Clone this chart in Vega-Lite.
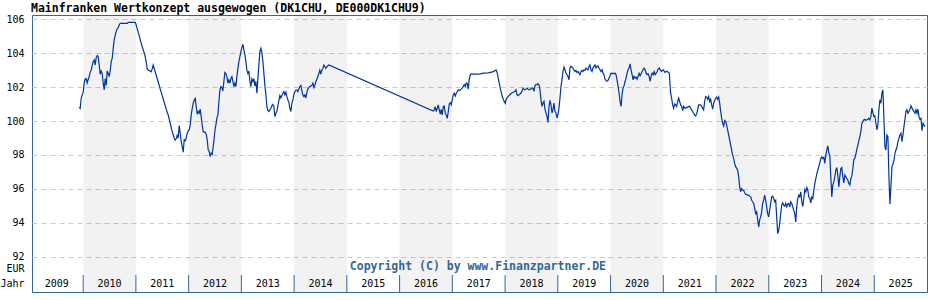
{
  "$schema": "https://vega.github.io/schema/vega-lite/v6.json",
  "width": 895,
  "height": 277,
  "autosize": {"type": "none"},
  "padding": {"left": 32, "top": 15, "right": 1, "bottom": 8},
  "background": "white",
  "title": {"text": "Mainfranken Wertkonzept ausgewogen (DK1CHU, DE000DK1CHU9)", "anchor": "start", "frame": "group", "font": "DejaVu Sans Mono", "fontSize": 11.5, "fontWeight": "bold", "color": "#000000", "baseline": "alphabetic", "offset": -9, "dx": -1},
  "config": {
    "view": {"stroke": "#336699", "strokeWidth": 1},
    "axis": {"labelFont": "DejaVu Sans Mono", "labelFontSize": 10, "labelColor": "#000000"}
  },
  "datasets": {
    "kurs": [
{"t":2009.925,"v":100.81},{"t":2009.944,"v":100.75},{"t":2009.963,"v":101.34},{"t":2009.982,"v":101.54},{"t":2010.001,"v":101.7},{"t":2010.02,"v":102.23},{"t":2010.038,"v":102.48},{"t":2010.057,"v":102.5},{"t":2010.076,"v":102.25},{"t":2010.095,"v":102.45},{"t":2010.114,"v":102.62},{"t":2010.133,"v":102.87},{"t":2010.152,"v":103.0},{"t":2010.171,"v":103.26},{"t":2010.19,"v":103.5},{"t":2010.209,"v":103.6},{"t":2010.228,"v":103.3},{"t":2010.247,"v":103.74},{"t":2010.266,"v":103.86},{"t":2010.285,"v":103.8},{"t":2010.304,"v":103.3},{"t":2010.323,"v":102.76},{"t":2010.342,"v":102.95},{"t":2010.361,"v":102.8},{"t":2010.38,"v":102.23},{"t":2010.399,"v":101.83},{"t":2010.418,"v":102.5},{"t":2010.437,"v":102.1},{"t":2010.456,"v":102.95},{"t":2010.475,"v":102.8},{"t":2010.494,"v":102.62},{"t":2010.513,"v":102.95},{"t":2010.532,"v":103.5},{"t":2010.551,"v":103.7},{"t":2010.57,"v":104.29},{"t":2010.588,"v":104.78},{"t":2010.607,"v":105.03},{"t":2010.626,"v":105.27},{"t":2010.645,"v":105.43},{"t":2010.664,"v":105.5},{"t":2010.683,"v":105.66},{"t":2010.702,"v":105.76},{"t":2010.835,"v":105.76},{"t":2010.854,"v":105.82},{"t":2010.987,"v":105.82},
{"t":2011.006,"v":105.66},{"t":2011.025,"v":105.43},{"t":2011.044,"v":105.23},{"t":2011.063,"v":105.03},{"t":2011.082,"v":104.8},{"t":2011.101,"v":104.58},{"t":2011.12,"v":104.38},{"t":2011.139,"v":104.2},{"t":2011.158,"v":104.0},{"t":2011.176,"v":103.8},{"t":2011.195,"v":103.5},{"t":2011.214,"v":103.07},{"t":2011.233,"v":103.0},{"t":2011.252,"v":102.97},{"t":2011.271,"v":102.95},{"t":2011.29,"v":102.9},{"t":2011.309,"v":103.07},{"t":2011.328,"v":103.3},{"t":2011.347,"v":103.1},{"t":2011.366,"v":102.9},{"t":2011.385,"v":102.7},{"t":2011.404,"v":102.5},{"t":2011.423,"v":102.3},{"t":2011.442,"v":102.1},{"t":2011.461,"v":101.89},{"t":2011.48,"v":101.7},{"t":2011.499,"v":101.5},{"t":2011.518,"v":101.3},{"t":2011.537,"v":101.1},{"t":2011.556,"v":100.9},{"t":2011.575,"v":100.7},{"t":2011.594,"v":100.5},{"t":2011.613,"v":100.36},{"t":2011.631,"v":100.12},{"t":2011.65,"v":99.87},{"t":2011.669,"v":99.62},{"t":2011.688,"v":99.38},{"t":2011.707,"v":99.19},{"t":2011.726,"v":99.0},{"t":2011.745,"v":98.87},{"t":2011.764,"v":98.95},{"t":2011.783,"v":99.15},{"t":2011.802,"v":99.0},{"t":2011.821,"v":99.73},{"t":2011.84,"v":99.28},{"t":2011.859,"v":98.8},{"t":2011.878,"v":98.49},{"t":2011.897,"v":98.16},{"t":2011.916,"v":98.9},{"t":2011.935,"v":98.83},{"t":2011.954,"v":99.0},{"t":2011.973,"v":99.28},{"t":2011.992,"v":99.42},
{"t":2012.011,"v":99.48},{"t":2012.03,"v":99.77},{"t":2012.049,"v":100.36},{"t":2012.068,"v":100.75},{"t":2012.087,"v":101.05},{"t":2012.106,"v":101.24},{"t":2012.125,"v":101.34},{"t":2012.144,"v":100.85},{"t":2012.163,"v":100.4},{"t":2012.181,"v":100.56},{"t":2012.2,"v":100.46},{"t":2012.219,"v":100.7},{"t":2012.238,"v":100.26},{"t":2012.257,"v":99.77},{"t":2012.276,"v":99.38},{"t":2012.295,"v":99.34},{"t":2012.314,"v":99.34},{"t":2012.333,"v":99.22},{"t":2012.352,"v":98.9},{"t":2012.371,"v":98.3},{"t":2012.39,"v":98.2},{"t":2012.409,"v":97.9},{"t":2012.428,"v":98.1},{"t":2012.447,"v":98.04},{"t":2012.466,"v":98.5},{"t":2012.485,"v":99.0},{"t":2012.504,"v":99.57},{"t":2012.517,"v":99.77},{"t":2012.536,"v":100.17},{"t":2012.555,"v":100.36},{"t":2012.574,"v":101.14},{"t":2012.593,"v":101.83},{"t":2012.612,"v":102.03},{"t":2012.631,"v":101.97},{"t":2012.649,"v":101.77},{"t":2012.668,"v":102.33},{"t":2012.687,"v":102.87},{"t":2012.706,"v":102.8},{"t":2012.725,"v":102.62},{"t":2012.744,"v":102.23},{"t":2012.763,"v":102.43},{"t":2012.782,"v":102.23},{"t":2012.801,"v":102.5},{"t":2012.82,"v":102.62},{"t":2012.839,"v":102.33},{"t":2012.858,"v":102.03},{"t":2012.877,"v":102.23},{"t":2012.896,"v":102.03},{"t":2012.915,"v":102.62},{"t":2012.934,"v":103.1},{"t":2012.953,"v":103.5},{"t":2012.972,"v":103.8},{"t":2012.991,"v":104.09},
{"t":2013.01,"v":104.33},{"t":2013.029,"v":104.52},{"t":2013.048,"v":104.2},{"t":2013.067,"v":103.9},{"t":2013.086,"v":103.5},{"t":2013.104,"v":103.0},{"t":2013.123,"v":102.8},{"t":2013.142,"v":102.95},{"t":2013.161,"v":102.33},{"t":2013.18,"v":102.03},{"t":2013.199,"v":102.48},{"t":2013.218,"v":102.33},{"t":2013.237,"v":102.5},{"t":2013.256,"v":102.07},{"t":2013.275,"v":102.33},{"t":2013.294,"v":101.64},{"t":2013.313,"v":102.5},{"t":2013.332,"v":103.3},{"t":2013.351,"v":104.09},{"t":2013.37,"v":104.29},{"t":2013.389,"v":104.05},{"t":2013.408,"v":103.5},{"t":2013.427,"v":102.8},{"t":2013.446,"v":102.1},{"t":2013.465,"v":101.54},{"t":2013.484,"v":100.85},{"t":2013.503,"v":100.61},{"t":2013.522,"v":100.56},{"t":2013.541,"v":100.66},{"t":2013.559,"v":100.75},{"t":2013.578,"v":100.9},{"t":2013.597,"v":100.98},{"t":2013.616,"v":100.85},{"t":2013.635,"v":100.26},{"t":2013.654,"v":100.46},{"t":2013.673,"v":100.56},{"t":2013.692,"v":100.9},{"t":2013.711,"v":101.2},{"t":2013.73,"v":101.5},{"t":2013.749,"v":101.36},{"t":2013.768,"v":101.5},{"t":2013.787,"v":101.64},{"t":2013.806,"v":101.73},{"t":2013.825,"v":101.54},{"t":2013.844,"v":101.7},{"t":2013.863,"v":101.44},{"t":2013.882,"v":101.24},{"t":2013.901,"v":101.1},{"t":2013.92,"v":100.75},{"t":2013.939,"v":100.56},{"t":2013.958,"v":101.05},{"t":2013.977,"v":101.24},{"t":2013.996,"v":101.58},
{"t":2014.014,"v":101.73},{"t":2014.033,"v":101.83},{"t":2014.052,"v":101.83},{"t":2014.071,"v":101.73},{"t":2014.09,"v":101.89},{"t":2014.109,"v":102.03},{"t":2014.128,"v":102.1},{"t":2014.147,"v":101.77},{"t":2014.166,"v":101.54},{"t":2014.185,"v":101.44},{"t":2014.204,"v":101.54},{"t":2014.223,"v":101.36},{"t":2014.242,"v":101.7},{"t":2014.261,"v":101.89},{"t":2014.28,"v":101.97},{"t":2014.299,"v":102.03},{"t":2014.318,"v":102.07},{"t":2014.337,"v":102.1},{"t":2014.356,"v":102.23},{"t":2014.375,"v":101.97},{"t":2014.394,"v":102.1},{"t":2014.413,"v":102.33},{"t":2014.432,"v":102.48},{"t":2014.451,"v":102.62},{"t":2014.469,"v":102.8},{"t":2014.488,"v":103.0},{"t":2014.507,"v":102.76},{"t":2014.526,"v":103.0},{"t":2014.545,"v":103.1},{"t":2014.564,"v":103.3},{"t":2014.583,"v":103.2},{"t":2014.602,"v":103.1},{"t":2014.621,"v":103.2},{"t":2014.64,"v":103.26},{"t":2014.659,"v":103.3},
{"t":2016.638,"v":100.59},{"t":2016.657,"v":100.65},{"t":2016.676,"v":100.85},{"t":2016.695,"v":100.55},{"t":2016.714,"v":100.75},{"t":2016.733,"v":100.95},{"t":2016.752,"v":100.65},{"t":2016.771,"v":100.41},{"t":2016.79,"v":100.68},{"t":2016.809,"v":100.36},{"t":2016.828,"v":100.85},{"t":2016.847,"v":100.89},{"t":2016.866,"v":100.45},{"t":2016.885,"v":100.36},{"t":2016.904,"v":100.16},{"t":2016.923,"v":100.55},{"t":2016.942,"v":101.0},{"t":2016.961,"v":101.08},{"t":2016.98,"v":100.95},{"t":2016.998,"v":101.24},
{"t":2017.017,"v":101.54},{"t":2017.036,"v":101.64},{"t":2017.055,"v":101.48},{"t":2017.074,"v":101.64},{"t":2017.093,"v":101.74},{"t":2017.112,"v":101.84},{"t":2017.131,"v":101.8},{"t":2017.15,"v":101.84},{"t":2017.169,"v":101.88},{"t":2017.188,"v":101.94},{"t":2017.207,"v":102.04},{"t":2017.226,"v":102.14},{"t":2017.245,"v":102.04},{"t":2017.264,"v":102.24},{"t":2017.283,"v":102.2},{"t":2017.302,"v":101.88},{"t":2017.321,"v":102.46},{"t":2017.34,"v":102.72},{"t":2017.359,"v":102.78},{"t":2017.397,"v":102.76},{"t":2017.491,"v":102.76},{"t":2017.536,"v":102.78},{"t":2017.586,"v":102.82},{"t":2017.681,"v":102.84},{"t":2017.744,"v":102.88},{"t":2017.776,"v":102.91},{"t":2017.808,"v":102.97},{"t":2017.833,"v":103.0},{"t":2017.852,"v":102.82},{"t":2017.871,"v":102.52},{"t":2017.89,"v":102.23},{"t":2017.909,"v":101.93},{"t":2017.928,"v":101.68},{"t":2017.947,"v":101.44},{"t":2017.966,"v":101.28},{"t":2017.985,"v":101.14},
{"t":2018.004,"v":101.04},{"t":2018.016,"v":101.25},{"t":2018.035,"v":101.35},{"t":2018.06,"v":101.45},{"t":2018.092,"v":101.55},{"t":2018.124,"v":101.65},{"t":2018.155,"v":101.7},{"t":2018.187,"v":101.75},{"t":2018.206,"v":101.84},{"t":2018.225,"v":101.55},{"t":2018.244,"v":101.49},{"t":2018.263,"v":101.55},{"t":2018.282,"v":101.59},{"t":2018.301,"v":101.65},{"t":2018.32,"v":101.75},{"t":2018.339,"v":101.94},{"t":2018.358,"v":101.88},{"t":2018.377,"v":101.84},{"t":2018.396,"v":101.88},{"t":2018.415,"v":101.94},{"t":2018.434,"v":101.88},{"t":2018.453,"v":101.84},{"t":2018.472,"v":101.88},{"t":2018.491,"v":101.88},{"t":2018.51,"v":101.94},{"t":2018.529,"v":101.94},{"t":2018.548,"v":101.75},{"t":2018.567,"v":102.08},{"t":2018.586,"v":102.14},{"t":2018.605,"v":102.14},{"t":2018.624,"v":102.2},{"t":2018.643,"v":102.14},{"t":2018.662,"v":101.84},{"t":2018.681,"v":101.25},{"t":2018.7,"v":100.86},{"t":2018.719,"v":101.06},{"t":2018.738,"v":101.16},{"t":2018.757,"v":100.67},{"t":2018.776,"v":100.47},{"t":2018.795,"v":100.27},{"t":2018.814,"v":99.92},{"t":2018.833,"v":100.86},{"t":2018.852,"v":101.22},{"t":2018.87,"v":100.96},{"t":2018.889,"v":100.47},{"t":2018.908,"v":100.67},{"t":2018.927,"v":101.06},{"t":2018.946,"v":100.57},{"t":2018.965,"v":100.47},{"t":2018.984,"v":100.18},
{"t":2019.003,"v":100.37},{"t":2019.022,"v":100.76},{"t":2019.041,"v":101.35},{"t":2019.06,"v":102.04},{"t":2019.079,"v":102.43},{"t":2019.098,"v":102.92},{"t":2019.117,"v":103.18},{"t":2019.136,"v":103.02},{"t":2019.155,"v":102.82},{"t":2019.174,"v":102.73},{"t":2019.193,"v":102.63},{"t":2019.212,"v":102.43},{"t":2019.23,"v":103.12},{"t":2019.249,"v":103.22},{"t":2019.268,"v":103.18},{"t":2019.287,"v":103.12},{"t":2019.306,"v":103.02},{"t":2019.325,"v":102.92},{"t":2019.344,"v":102.98},{"t":2019.363,"v":102.86},{"t":2019.382,"v":102.92},{"t":2019.401,"v":102.82},{"t":2019.42,"v":102.73},{"t":2019.439,"v":102.92},{"t":2019.458,"v":102.98},{"t":2019.477,"v":102.92},{"t":2019.496,"v":103.02},{"t":2019.515,"v":102.98},{"t":2019.534,"v":103.12},{"t":2019.553,"v":103.06},{"t":2019.572,"v":103.02},{"t":2019.591,"v":103.22},{"t":2019.61,"v":103.31},{"t":2019.629,"v":103.02},{"t":2019.648,"v":102.92},{"t":2019.667,"v":103.12},{"t":2019.686,"v":103.22},{"t":2019.705,"v":103.31},{"t":2019.724,"v":103.12},{"t":2019.743,"v":103.22},{"t":2019.762,"v":103.25},{"t":2019.781,"v":103.12},{"t":2019.8,"v":103.02},{"t":2019.819,"v":102.92},{"t":2019.838,"v":103.02},{"t":2019.857,"v":102.82},{"t":2019.876,"v":102.73},{"t":2019.895,"v":102.47},{"t":2019.914,"v":102.39},{"t":2019.933,"v":102.35},{"t":2019.952,"v":102.39},{"t":2019.971,"v":102.53},{"t":2019.99,"v":102.67},
{"t":2020.009,"v":102.82},{"t":2020.028,"v":102.78},{"t":2020.047,"v":102.82},{"t":2020.066,"v":102.78},{"t":2020.085,"v":102.82},{"t":2020.104,"v":102.73},{"t":2020.123,"v":102.43},{"t":2020.142,"v":102.04},{"t":2020.161,"v":101.65},{"t":2020.18,"v":101.16},{"t":2020.199,"v":100.86},{"t":2020.218,"v":101.55},{"t":2020.237,"v":101.94},{"t":2020.256,"v":102.08},{"t":2020.275,"v":102.33},{"t":2020.294,"v":102.53},{"t":2020.313,"v":102.82},{"t":2020.332,"v":103.02},{"t":2020.351,"v":103.12},{"t":2020.37,"v":103.37},{"t":2020.389,"v":103.02},{"t":2020.408,"v":102.73},{"t":2020.427,"v":102.43},{"t":2020.446,"v":102.63},{"t":2020.465,"v":102.53},{"t":2020.484,"v":102.59},{"t":2020.503,"v":102.47},{"t":2020.522,"v":102.63},{"t":2020.541,"v":102.82},{"t":2020.56,"v":102.67},{"t":2020.579,"v":102.78},{"t":2020.598,"v":102.92},{"t":2020.617,"v":103.02},{"t":2020.636,"v":103.12},{"t":2020.655,"v":103.02},{"t":2020.674,"v":102.82},{"t":2020.693,"v":102.73},{"t":2020.712,"v":102.78},{"t":2020.731,"v":102.63},{"t":2020.75,"v":102.33},{"t":2020.769,"v":102.63},{"t":2020.788,"v":102.82},{"t":2020.807,"v":102.73},{"t":2020.826,"v":102.92},{"t":2020.845,"v":102.73},{"t":2020.864,"v":102.82},{"t":2020.883,"v":102.92},{"t":2020.902,"v":103.06},{"t":2020.921,"v":103.12},{"t":2020.94,"v":103.02},{"t":2020.968,"v":102.93},{"t":2021.0,"v":103.02},
{"t":2021.032,"v":102.87},{"t":2021.063,"v":102.93},{"t":2021.095,"v":102.87},{"t":2021.114,"v":102.83},{"t":2021.126,"v":102.24},{"t":2021.139,"v":101.64},{"t":2021.158,"v":101.35},{"t":2021.177,"v":100.95},{"t":2021.196,"v":100.76},{"t":2021.215,"v":101.01},{"t":2021.234,"v":100.95},{"t":2021.253,"v":100.86},{"t":2021.272,"v":101.15},{"t":2021.291,"v":101.35},{"t":2021.31,"v":101.15},{"t":2021.329,"v":100.95},{"t":2021.348,"v":100.86},{"t":2021.367,"v":100.62},{"t":2021.386,"v":100.86},{"t":2021.405,"v":100.76},{"t":2021.424,"v":100.76},{"t":2021.443,"v":100.82},{"t":2021.462,"v":100.8},{"t":2021.48,"v":100.86},{"t":2021.499,"v":100.86},{"t":2021.518,"v":100.76},{"t":2021.537,"v":100.66},{"t":2021.556,"v":100.56},{"t":2021.575,"v":100.46},{"t":2021.594,"v":100.36},{"t":2021.613,"v":100.3},{"t":2021.632,"v":100.42},{"t":2021.651,"v":100.66},{"t":2021.67,"v":100.95},{"t":2021.689,"v":100.95},{"t":2021.708,"v":100.95},{"t":2021.727,"v":100.86},{"t":2021.746,"v":100.76},{"t":2021.765,"v":100.66},{"t":2021.784,"v":101.15},{"t":2021.803,"v":101.45},{"t":2021.822,"v":101.41},{"t":2021.841,"v":101.28},{"t":2021.86,"v":101.45},{"t":2021.879,"v":101.15},{"t":2021.898,"v":101.28},{"t":2021.917,"v":100.95},{"t":2021.936,"v":100.7},{"t":2021.955,"v":101.05},{"t":2021.974,"v":101.21},{"t":2021.993,"v":101.35},
{"t":2022.012,"v":101.41},{"t":2022.031,"v":101.28},{"t":2022.05,"v":101.41},{"t":2022.069,"v":101.05},{"t":2022.088,"v":100.56},{"t":2022.107,"v":100.17},{"t":2022.126,"v":99.87},{"t":2022.145,"v":99.71},{"t":2022.164,"v":100.03},{"t":2022.183,"v":99.97},{"t":2022.201,"v":99.77},{"t":2022.22,"v":99.48},{"t":2022.239,"v":99.18},{"t":2022.258,"v":98.88},{"t":2022.277,"v":98.59},{"t":2022.296,"v":98.29},{"t":2022.315,"v":97.99},{"t":2022.334,"v":97.8},{"t":2022.353,"v":97.5},{"t":2022.372,"v":97.31},{"t":2022.391,"v":97.21},{"t":2022.41,"v":97.11},{"t":2022.429,"v":96.72},{"t":2022.448,"v":96.12},{"t":2022.467,"v":95.83},{"t":2022.486,"v":96.02},{"t":2022.505,"v":95.93},{"t":2022.524,"v":95.9},{"t":2022.543,"v":95.77},{"t":2022.562,"v":95.67},{"t":2022.581,"v":95.67},{"t":2022.6,"v":95.63},{"t":2022.619,"v":95.63},{"t":2022.638,"v":95.57},{"t":2022.657,"v":95.53},{"t":2022.676,"v":95.33},{"t":2022.695,"v":95.24},{"t":2022.714,"v":95.14},{"t":2022.733,"v":94.84},{"t":2022.752,"v":94.54},{"t":2022.771,"v":94.64},{"t":2022.79,"v":94.15},{"t":2022.809,"v":93.76},{"t":2022.828,"v":94.19},{"t":2022.846,"v":94.35},{"t":2022.865,"v":94.64},{"t":2022.884,"v":95.14},{"t":2022.903,"v":95.33},{"t":2022.922,"v":95.63},{"t":2022.941,"v":95.33},{"t":2022.96,"v":94.94},{"t":2022.979,"v":94.54},{"t":2022.998,"v":94.35},
{"t":2023.017,"v":94.74},{"t":2023.036,"v":95.14},{"t":2023.055,"v":95.53},{"t":2023.074,"v":95.57},{"t":2023.093,"v":95.43},{"t":2023.112,"v":95.24},{"t":2023.131,"v":95.33},{"t":2023.15,"v":94.35},{"t":2023.169,"v":93.36},{"t":2023.188,"v":93.56},{"t":2023.207,"v":93.95},{"t":2023.226,"v":94.54},{"t":2023.245,"v":95.04},{"t":2023.264,"v":95.18},{"t":2023.283,"v":95.04},{"t":2023.302,"v":94.98},{"t":2023.321,"v":95.14},{"t":2023.34,"v":94.94},{"t":2023.359,"v":95.1},{"t":2023.378,"v":95.14},{"t":2023.397,"v":94.94},{"t":2023.416,"v":95.24},{"t":2023.435,"v":95.14},{"t":2023.454,"v":94.94},{"t":2023.473,"v":94.74},{"t":2023.492,"v":94.54},{"t":2023.511,"v":94.05},{"t":2023.53,"v":94.94},{"t":2023.549,"v":95.43},{"t":2023.568,"v":95.63},{"t":2023.587,"v":95.53},{"t":2023.606,"v":95.83},{"t":2023.626,"v":95.23},{"t":2023.645,"v":94.97},{"t":2023.664,"v":95.43},{"t":2023.683,"v":95.96},{"t":2023.702,"v":95.82},{"t":2023.721,"v":96.08},{"t":2023.74,"v":95.92},{"t":2023.759,"v":95.52},{"t":2023.778,"v":95.43},{"t":2023.797,"v":95.17},{"t":2023.816,"v":95.52},{"t":2023.835,"v":95.43},{"t":2023.854,"v":95.92},{"t":2023.873,"v":96.31},{"t":2023.892,"v":96.61},{"t":2023.91,"v":96.87},{"t":2023.929,"v":97.1},{"t":2023.948,"v":97.3},{"t":2023.967,"v":97.54},{"t":2023.986,"v":97.79},
{"t":2024.005,"v":97.89},{"t":2024.024,"v":97.79},{"t":2024.043,"v":97.85},{"t":2024.062,"v":97.5},{"t":2024.081,"v":97.99},{"t":2024.1,"v":98.29},{"t":2024.119,"v":98.53},{"t":2024.138,"v":98.13},{"t":2024.157,"v":97.99},{"t":2024.176,"v":96.71},{"t":2024.195,"v":95.52},{"t":2024.214,"v":96.22},{"t":2024.233,"v":96.41},{"t":2024.252,"v":96.71},{"t":2024.271,"v":97.1},{"t":2024.29,"v":97.26},{"t":2024.309,"v":96.81},{"t":2024.328,"v":96.12},{"t":2024.347,"v":96.71},{"t":2024.366,"v":97.2},{"t":2024.385,"v":97.26},{"t":2024.404,"v":96.71},{"t":2024.423,"v":96.35},{"t":2024.442,"v":96.81},{"t":2024.461,"v":96.71},{"t":2024.48,"v":96.61},{"t":2024.499,"v":96.51},{"t":2024.518,"v":96.31},{"t":2024.537,"v":96.22},{"t":2024.556,"v":96.61},{"t":2024.575,"v":96.75},{"t":2024.594,"v":97.2},{"t":2024.613,"v":97.74},{"t":2024.632,"v":97.79},{"t":2024.651,"v":98.05},{"t":2024.67,"v":98.33},{"t":2024.689,"v":98.58},{"t":2024.708,"v":98.84},{"t":2024.727,"v":99.08},{"t":2024.746,"v":99.37},{"t":2024.765,"v":99.87},{"t":2024.784,"v":99.97},{"t":2024.803,"v":100.07},{"t":2024.822,"v":100.1},{"t":2024.841,"v":100.03},{"t":2024.86,"v":100.07},{"t":2024.879,"v":100.1},{"t":2024.898,"v":100.16},{"t":2024.917,"v":100.07},{"t":2024.936,"v":100.26},{"t":2024.955,"v":100.76},{"t":2024.974,"v":100.5},{"t":2024.993,"v":100.26},
{"t":2025.012,"v":100.3},{"t":2025.031,"v":99.87},{"t":2025.05,"v":99.47},{"t":2025.069,"v":99.77},{"t":2025.088,"v":100.66},{"t":2025.107,"v":101.25},{"t":2025.126,"v":101.05},{"t":2025.145,"v":101.64},{"t":2025.164,"v":101.84},{"t":2025.183,"v":100.16},{"t":2025.202,"v":98.49},{"t":2025.221,"v":98.29},{"t":2025.24,"v":99.18},{"t":2025.259,"v":99.08},{"t":2025.278,"v":96.71},{"t":2025.297,"v":95.09},{"t":2025.316,"v":96.12},{"t":2025.335,"v":97.3},{"t":2025.354,"v":97.46},{"t":2025.373,"v":97.7},{"t":2025.392,"v":98.09},{"t":2025.411,"v":98.29},{"t":2025.43,"v":98.45},{"t":2025.449,"v":98.78},{"t":2025.468,"v":98.98},{"t":2025.487,"v":99.18},{"t":2025.506,"v":99.28},{"t":2025.525,"v":98.78},{"t":2025.544,"v":99.18},{"t":2025.563,"v":99.67},{"t":2025.582,"v":100.1},{"t":2025.601,"v":100.56},{"t":2025.62,"v":100.66},{"t":2025.639,"v":100.46},{"t":2025.658,"v":100.56},{"t":2025.677,"v":100.7},{"t":2025.696,"v":100.9},{"t":2025.715,"v":100.76},{"t":2025.734,"v":100.66},{"t":2025.753,"v":100.56},{"t":2025.772,"v":100.46},{"t":2025.791,"v":100.66},{"t":2025.81,"v":100.46},{"t":2025.829,"v":100.7},{"t":2025.848,"v":100.26},{"t":2025.867,"v":100.1},{"t":2025.886,"v":100.16},{"t":2025.905,"v":99.43},{"t":2025.924,"v":99.87},{"t":2025.943,"v":99.77},{"t":2025.962,"v":99.67}
    ],
    "jahre": [
      {"jahr": 2009, "ende": 2010, "grau": false},
      {"jahr": 2010, "ende": 2011, "grau": true},
      {"jahr": 2011, "ende": 2012, "grau": false},
      {"jahr": 2012, "ende": 2013, "grau": true},
      {"jahr": 2013, "ende": 2014, "grau": false},
      {"jahr": 2014, "ende": 2015, "grau": true},
      {"jahr": 2015, "ende": 2016, "grau": false},
      {"jahr": 2016, "ende": 2017, "grau": true},
      {"jahr": 2017, "ende": 2018, "grau": false},
      {"jahr": 2018, "ende": 2019, "grau": true},
      {"jahr": 2019, "ende": 2020, "grau": false},
      {"jahr": 2020, "ende": 2021, "grau": true},
      {"jahr": 2021, "ende": 2022, "grau": false},
      {"jahr": 2022, "ende": 2023, "grau": true},
      {"jahr": 2023, "ende": 2024, "grau": false},
      {"jahr": 2024, "ende": 2025, "grau": true},
      {"jahr": 2025, "ende": 2026, "grau": false}
    ]
  },
  "layer": [
    {
      "data": {"name": "jahre"},
      "transform": [{"filter": "datum.grau"}],
      "mark": {"type": "rect", "fill": "#000000", "fillOpacity": 0.05},
      "encoding": {
        "x": {"field": "jahr", "type": "quantitative", "axis": null, "scale": {"domain": [2009.03, 2026], "nice": false, "zero": false}},
        "x2": {"field": "ende"}
      }
    },
    {
      "data": {"name": "kurs"},
      "mark": {"type": "line", "color": "#0033a0", "strokeWidth": 1.2},
      "encoding": {
        "x": {"field": "t", "type": "quantitative", "axis": null, "scale": {"domain": [2009.03, 2026], "nice": false, "zero": false}},
        "y": {"field": "v", "type": "quantitative", "scale": {"domain": [89.92, 106.25], "nice": false, "zero": false},
          "axis": {"title": null, "values": [90.42, 91.33, 92, 94, 96, 98, 100, 102, 104, 106], "tickCount": 40, "format": "d", "labelExpr": "datum.value < 91 ? 'Jahr' : datum.value < 92 ? 'EUR' : datum.label", "labelOverlap": false, "labelBound": false, "domain": false, "ticks": false, "labelPadding": 8, "labelBaseline": "middle", "grid": true, "gridColor": "#cccccc", "gridDash": [5, 4], "gridOpacity": {"condition": {"test": "datum.value < 92", "value": 0}, "value": 1}}}
      }
    },
    {
      "data": {"name": "jahre"},
      "transform": [{"filter": "datum.jahr > 2009"}],
      "mark": {"type": "rule", "color": "#336699", "strokeWidth": 1},
      "encoding": {
        "x": {"field": "jahr", "type": "quantitative", "axis": null, "scale": {"domain": [2009.03, 2026], "nice": false, "zero": false}},
        "y": {"datum": 89.92, "type": "quantitative", "scale": {"domain": [89.92, 106.25], "nice": false, "zero": false}},
        "y2": {"datum": 90.92}
      }
    },
    {
      "mark": {"type": "rule", "color": "#336699", "strokeWidth": 1},
      "encoding": {
        "y": {"datum": 90.92, "type": "quantitative", "scale": {"domain": [89.92, 106.25], "nice": false, "zero": false}}
      }
    },
    {
      "data": {"name": "jahre"},
      "mark": {"type": "text", "font": "DejaVu Sans Mono", "fontSize": 10, "color": "#000000", "align": "center", "baseline": "middle", "dx": 26.4},
      "encoding": {
        "x": {"field": "jahr", "type": "quantitative", "axis": null, "scale": {"domain": [2009.03, 2026], "nice": false, "zero": false}},
        "y": {"datum": 90.42, "type": "quantitative", "scale": {"domain": [89.92, 106.25], "nice": false, "zero": false}},
        "text": {"field": "jahr", "type": "nominal"}
      }
    },
    {
      "data": {"values": [{"hinweis": "Copyright (C) by www.Finanzpartner.DE"}]},
      "mark": {"type": "text", "font": "DejaVu Sans Mono", "fontSize": 11.5, "fontWeight": "bold", "color": "#336699", "align": "center", "baseline": "middle"},
      "encoding": {
        "x": {"datum": 2017.485, "type": "quantitative", "axis": null, "scale": {"domain": [2009.03, 2026], "nice": false, "zero": false}},
        "y": {"datum": 91.39, "type": "quantitative", "scale": {"domain": [89.92, 106.25], "nice": false, "zero": false}},
        "text": {"field": "hinweis", "type": "nominal"}
      }
    }
  ]
}
